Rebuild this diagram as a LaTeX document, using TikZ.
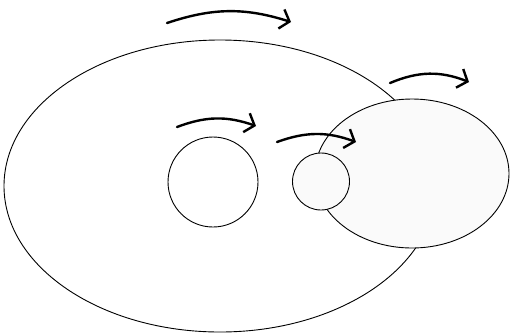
\documentclass[tikz,border=0pt]{standalone}
\usetikzlibrary{arrows.meta}
\tikzset{
    orbit/.style={draw, line width=.9pt},
    lobe/.style={orbit, fill=black!2},
    spin/.style={line width=2.4pt, line cap=round, -{Straight Barb[length=8.5pt, width=20pt]}}
}

\begin{document}
\begin{tikzpicture}[x=1pt, y=-1pt]
    \useasboundingbox (0,0) rectangle (510,333);
    \path[orbit] (220,186) ellipse [x radius=216, y radius=146];
    \path[orbit] (213,182) circle [radius=45];
    \path[lobe]  (412,173.5) ellipse [x radius=97, y radius=74.5];
    \path[lobe]  (321,181.5) circle [radius=28.5];
    \draw[spin] (167,23) to[bend left=18] (291,22);
    \draw[spin] (390,83) to[bend left=22] (469,82);
    \draw[spin] (177,127) to[bend left=20] (256,126);
    \draw[spin] (277,142) to[bend left=20] (356,142);
\end{tikzpicture}
\end{document}
